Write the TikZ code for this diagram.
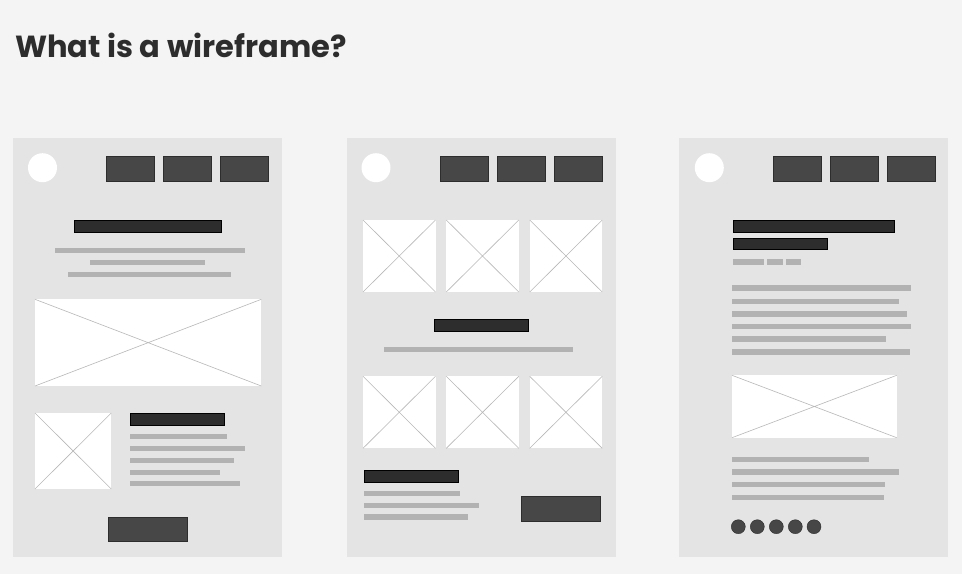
\documentclass[tikz,border=0pt]{standalone}
\usepackage{fontspec}
\newfontfamily\titlefont{Poppins}
\definecolor{bgcol}{HTML}{F4F4F4}
\definecolor{panelcol}{HTML}{E4E4E4}
\definecolor{navcol}{HTML}{474747}
\definecolor{barcol}{HTML}{2D2D2D}
\definecolor{linecol}{HTML}{B2B2B2}
\definecolor{crosscol}{HTML}{B8B8B8}

\begin{document}
\begin{tikzpicture}[
  x=1pt, y=-1pt,
  panel/.style={fill=panelcol},
  navbtn/.style={fill=navcol, draw=barcol, line width=.4pt},
  headbar/.style={fill=barcol, draw=black, line width=.4pt},
  textline/.style={fill=linecol},
  imgbox/.style={fill=white},
  cross/.style={draw=crosscol, line width=.6pt}
  ]
\fill [bgcol] (0,0) rectangle (962,574);
\useasboundingbox (0,0) rectangle (962,574);
\node [anchor=base west, inner sep=0pt, text=barcol, font=\titlefont\bfseries\fontsize{30.5}{33}\selectfont] (title) at (15,57) {What is a wireframe?};

% landing page
\begin{scope}[shift={(13,138)}]
\fill [panel] (0,0) rectangle (269,419);
\fill [white] (29.5,29.7) circle (14.5);
\foreach \x in {93,150,207}
  \draw [navbtn] (\x,18) rectangle +(48.5,25);
\draw [headbar] (61,82.3) rectangle (208,94);
\fill [textline] (42,110) rectangle (232,115.3);
\fill [textline] (77,122) rectangle (192,127.3);
\fill [textline] (55.3,133.7) rectangle (217.7,139);
\fill [imgbox] (22,161.3) rectangle (248.3,248);
\draw [cross] (22,161.3) -- (248.3,248) (22,248) -- (248.3,161.3);
\fill [imgbox] (22,275) rectangle (98.3,351);
\draw [cross] (22,275) -- (98.3,351) (22,351) -- (98.3,275);
\draw [headbar] (117,275.3) rectangle (210.7,287);
\fill [textline] (117,296) rectangle (214,301);
\fill [textline] (117,308) rectangle (231.7,313);
\fill [textline] (117,320) rectangle (221.3,325);
\fill [textline] (117,332) rectangle (206.7,336.7);
\fill [textline] (117,343) rectangle (226.7,348.3);
\draw [navbtn] (94.7,378.7) rectangle (174,403.3);
\end{scope}

% gallery page
\begin{scope}[shift={(347,138)}]
\fill [panel] (0,0) rectangle (269,419);
\fill [white] (29,29.7) circle (14.5);
\foreach \x in {93,150,207}
  \draw [navbtn] (\x,18) rectangle +(48.5,25);
\foreach \x in {16,99.3,182.7} {
  \fill [imgbox] (\x,82) rectangle +(72.5,72);
  \draw [cross] (\x,82) -- +(72.5,72) (\x,154) -- +(72.5,-72);
  \fill [imgbox] (\x,238.3) rectangle +(72.5,72);
  \draw [cross] (\x,238.3) -- +(72.5,72) (\x,310.3) -- +(72.5,-72);
}
\draw [headbar] (87.3,180.7) rectangle (181,192.7);
\fill [textline] (36.7,208.7) rectangle (225.7,214);
\draw [headbar] (16.7,332) rectangle (110.7,343.7);
\fill [textline] (16.7,352.7) rectangle (113.3,358);
\fill [textline] (16.7,364.7) rectangle (131.7,370);
\fill [textline] (16.7,376.3) rectangle (121.3,381.7);
\draw [navbtn] (173.7,358) rectangle (253,382.7);
\end{scope}

% article page
\begin{scope}[shift={(679,138)}]
\fill [panel] (0,0) rectangle (269,419);
\fill [white] (30.3,29.7) circle (14.5);
\foreach \x in {93.7,151,208}
  \draw [navbtn] (\x,18) rectangle +(48.5,25);
\draw [headbar] (54,82.3) rectangle (214.7,94.3);
\draw [headbar] (54,99.7) rectangle (148,111.3);
\fill [textline] (54,121.3) rectangle (85,126.7);
\fill [textline] (88.3,121.3) rectangle (103.7,126.7);
\fill [textline] (106.7,121.3) rectangle (122,126.7);
\foreach \y/\e in {147.3/232.3,160.7/220.3,173/228,185.7/232.3,198.3/207.3,211/231}
  \fill [textline] (53,\y) rectangle (\e,\y+5.5);
\fill [imgbox] (53,237.3) rectangle (217.7,299.7);
\draw [cross] (53,237.3) -- (217.7,299.7) (53,299.7) -- (217.7,237.3);
\foreach \y/\e in {318.7/190,331.3/220.3,343.7/205.7,356.7/205}
  \fill [textline] (53,\y) rectangle (\e,\y+5.5);
\foreach \x in {59.3,78.3,97.3,116.3,135}
  \draw [navbtn] (\x,388.7) circle (7);
\end{scope}
\end{tikzpicture}
\end{document}
